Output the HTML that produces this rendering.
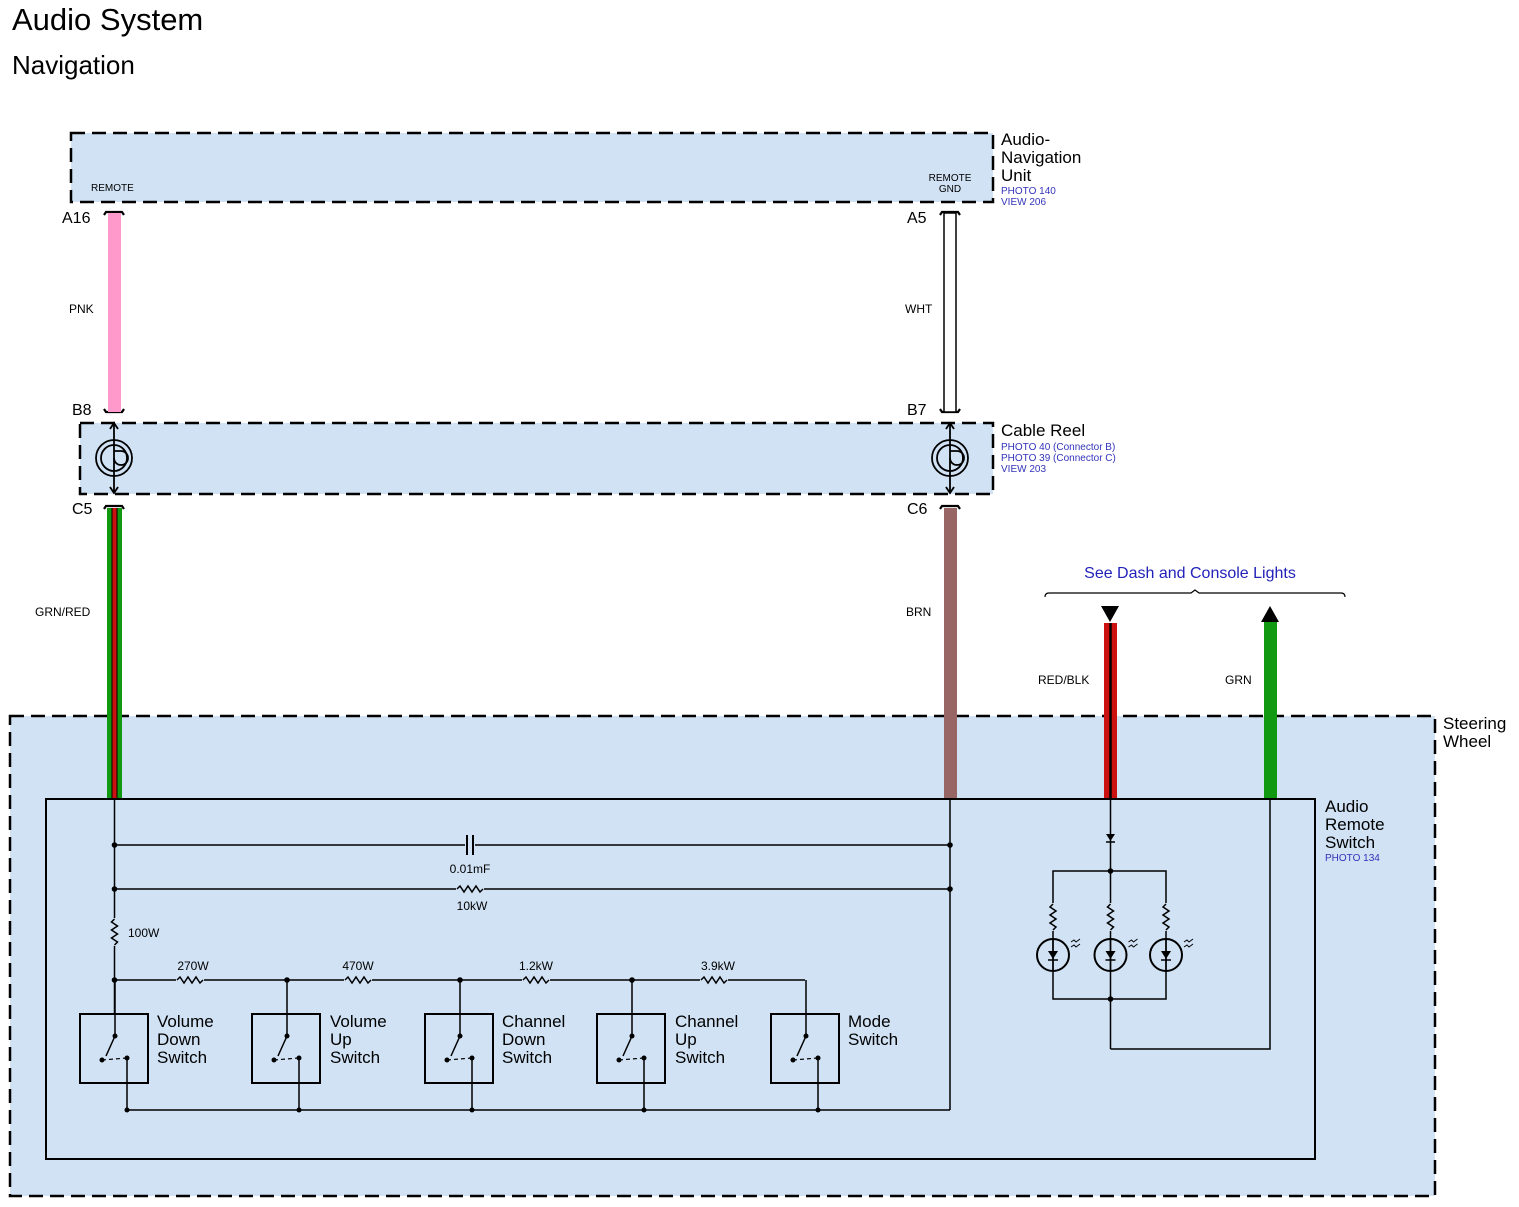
<!DOCTYPE html>
<html><head><meta charset="utf-8"><style>
html,body{margin:0;padding:0;background:#fff}
svg{display:block;font-family:"Liberation Sans",Arial,sans-serif}
</style></head><body>
<svg width="1519" height="1207" viewBox="0 0 1519 1207" xmlns="http://www.w3.org/2000/svg">
<defs>
<g id="rh"><rect x="-14" y="-5" width="28" height="10" fill="#d0e2f4"/><polyline points="-13,0 -10,-3 -6,3 -2,-3 2,3 6,-3 10,3 13,0" fill="none" stroke="#000" stroke-width="1.5"/></g>
<g id="rv"><rect x="-5" y="-14" width="10" height="28" fill="#d0e2f4"/><polyline points="0,-13 -3,-10 3,-6 -3,-2 3,2 -3,6 3,10 0,13" fill="none" stroke="#000" stroke-width="1.5"/></g>
<g id="sw">
<rect x="0" y="0" width="68" height="69" fill="none" stroke="#000" stroke-width="2"/>
<line x1="35" y1="-34" x2="35" y2="22" stroke="#000" stroke-width="1.5"/>
<circle cx="35" cy="22" r="2.5"/>
<line x1="35" y1="22" x2="26" y2="42" stroke="#000" stroke-width="1.5"/>
<circle cx="22" cy="46" r="2.5"/>
<line x1="22" y1="46" x2="47" y2="44" stroke="#000" stroke-width="1.2" stroke-dasharray="4,3"/>
<circle cx="47" cy="44" r="2.5"/>
<line x1="47" y1="44" x2="47" y2="96" stroke="#000" stroke-width="1.5"/>
<circle cx="47" cy="96" r="2.5"/>
</g>
<g id="led">
<circle cx="0" cy="0" r="16" fill="none" stroke="#000" stroke-width="2"/>
<polygon points="-5,-4 5,-4 0,4"/><line x1="-5" y1="5" x2="5" y2="5" stroke="#000" stroke-width="1.5"/>
<line x1="0" y1="-16" x2="0" y2="16" stroke="#000" stroke-width="1.5"/>
<path d="M18,-13 l3,-2 l2,2 l4,-3 M18,-8 l3,-2 l2,2 l4,-3" fill="none" stroke="#000" stroke-width="1"/>
</g>
<g id="reel" fill="none" stroke="#000" stroke-width="1.8">
<circle cx="0" cy="0" r="18"/><circle cx="0" cy="0" r="13"/><path d="M0,0 a7,7 0 1 0 7,-7 L0,-7"/>
<line x1="0" y1="-34" x2="0" y2="34"/><path d="M-4,-29 L0,-35 L4,-29 M-4,29 L0,35 L4,29"/>
</g>
</defs>
<text x="12" y="30" font-size="31">Audio System</text>
<text x="12" y="74" font-size="26">Navigation</text>

<rect x="71" y="133" width="922" height="69" fill="#d0e2f4" stroke="#000" stroke-width="2.5" stroke-dasharray="14,7"/>
<text x="91" y="191" font-size="10">REMOTE</text>
<text x="950" y="181" font-size="10" text-anchor="middle">REMOTE</text>
<text x="950" y="192" font-size="10" text-anchor="middle">GND</text>
<text x="1001" y="145" font-size="17">Audio-</text>
<text x="1001" y="163" font-size="17">Navigation</text>
<text x="1001" y="181" font-size="17">Unit</text>
<text x="1001" y="194" font-size="10" fill="#3333bb">PHOTO 140</text>
<text x="1001" y="205" font-size="10" fill="#3333bb">VIEW 206</text>

<g fill="none" stroke="#000" stroke-width="2.2">
<path d="M104,215 l2,-3 h16 l2,3"/><path d="M104,409 l2,3 h16 l2,-3"/><path d="M104,509 l2,-3 h16 l2,3"/>
<path d="M940,215 l2,-3 h16 l2,3"/><path d="M940,409 l2,3 h16 l2,-3"/><path d="M940,509 l2,-3 h16 l2,3"/>
</g>
<text x="62" y="223" font-size="16">A16</text>
<text x="907" y="223" font-size="16">A5</text>
<text x="72" y="415" font-size="16">B8</text>
<text x="907" y="415" font-size="16">B7</text>
<text x="72" y="514" font-size="16">C5</text>
<text x="907" y="514" font-size="16">C6</text>

<rect x="108" y="213" width="13" height="199" fill="#ff99cc"/>
<rect x="944" y="213" width="12" height="199" fill="#fff" stroke="#000" stroke-width="1.5"/>
<text x="69" y="313" font-size="12">PNK</text>
<text x="905" y="313" font-size="12">WHT</text>

<rect x="80" y="423" width="913" height="71" fill="#d0e2f4" stroke="#000" stroke-width="2.5" stroke-dasharray="14,7"/>
<use href="#reel" x="114" y="458"/>
<use href="#reel" x="950" y="458"/>
<text x="1001" y="436" font-size="17">Cable Reel</text>
<text x="1001" y="450" font-size="10" fill="#3333bb">PHOTO 40 (Connector B)</text>
<text x="1001" y="461" font-size="10" fill="#3333bb">PHOTO 39 (Connector C)</text>
<text x="1001" y="472" font-size="10" fill="#3333bb">VIEW 203</text>

<rect x="10" y="716" width="1425" height="480" fill="#d0e2f4" stroke="#000" stroke-width="2.5" stroke-dasharray="14,7"/>
<text x="1443" y="729" font-size="17">Steering</text>
<text x="1443" y="747" font-size="17">Wheel</text>

<rect x="107" y="508" width="15" height="292" fill="#119911"/>
<line x1="112" y1="508" x2="112" y2="800" stroke="#000" stroke-width="1"/>
<line x1="117" y1="508" x2="117" y2="800" stroke="#000" stroke-width="1"/>
<rect x="112.5" y="508" width="4" height="292" fill="#cc1111"/>
<rect x="944" y="508" width="13" height="292" fill="#996666"/>
<text x="35" y="616" font-size="12">GRN/RED</text>
<text x="906" y="616" font-size="12">BRN</text>

<text x="1190" y="578" font-size="16" fill="#2222bb" text-anchor="middle">See Dash and Console Lights</text>
<path d="M1045,597 q0,-4 4,-4 L1191,593 l4,-3 l4,3 L1341,593 q4,0 4,4" fill="none" stroke="#000" stroke-width="1.2"/>
<polygon points="1101,606 1119,606 1110,622"/>
<rect x="1104" y="623" width="13" height="177" fill="#cc1111"/>
<line x1="1110.5" y1="623" x2="1110.5" y2="800" stroke="#000" stroke-width="2.5"/>
<polygon points="1261,622 1279,622 1270,606"/>
<rect x="1264" y="622" width="13" height="178" fill="#119911"/>
<text x="1038" y="684" font-size="12">RED/BLK</text>
<text x="1225" y="684" font-size="12">GRN</text>

<rect x="46" y="799" width="1269" height="360" fill="#d0e2f4" stroke="#000" stroke-width="2"/>
<text x="1325" y="812" font-size="17">Audio</text>
<text x="1325" y="830" font-size="17">Remote</text>
<text x="1325" y="848" font-size="17">Switch</text>
<text x="1325" y="861" font-size="10" fill="#3333bb">PHOTO 134</text>

<g stroke="#000" stroke-width="1.5" fill="none">
<line x1="114.5" y1="800" x2="114.5" y2="1014"/>
<line x1="114.5" y1="845" x2="950" y2="845"/>
<line x1="114.5" y1="889" x2="950" y2="889"/>
<line x1="950" y1="800" x2="950" y2="1110"/>
<line x1="114.5" y1="980" x2="805" y2="980"/>
<line x1="127" y1="1110" x2="950" y2="1110"/>
</g>
<rect x="465" y="835" width="10" height="20" fill="#d0e2f4"/>
<line x1="467" y1="835" x2="467" y2="855" stroke="#000" stroke-width="2"/>
<line x1="473" y1="835" x2="473" y2="855" stroke="#000" stroke-width="2"/>
<circle cx="114.5" cy="845" r="2.8"/><circle cx="950" cy="845" r="2.8"/>
<circle cx="114.5" cy="889" r="2.8"/><circle cx="950" cy="889" r="2.8"/>
<circle cx="114.5" cy="980" r="2.8"/>
<text x="470" y="873" font-size="12" text-anchor="middle">0.01mF</text>
<use href="#rh" x="470" y="889"/>
<text x="472" y="910" font-size="12" text-anchor="middle">10kW</text>
<use href="#rv" x="114.5" y="932"/>
<text x="128" y="937" font-size="12">100W</text>
<use href="#rh" x="190" y="980"/><text x="193" y="970" font-size="12" text-anchor="middle">270W</text>
<use href="#rh" x="358" y="980"/><text x="358" y="970" font-size="12" text-anchor="middle">470W</text>
<use href="#rh" x="536" y="980"/><text x="536" y="970" font-size="12" text-anchor="middle">1.2kW</text>
<use href="#rh" x="714" y="980"/><text x="718" y="970" font-size="12" text-anchor="middle">3.9kW</text>
<circle cx="287" cy="980" r="2.8"/><circle cx="460" cy="980" r="2.8"/><circle cx="632" cy="980" r="2.8"/>

<use href="#sw" x="80" y="1014"/>
<use href="#sw" x="252" y="1014"/>
<use href="#sw" x="425" y="1014"/>
<use href="#sw" x="597" y="1014"/>
<use href="#sw" x="771" y="1014"/>
<g font-size="17">
<text x="157" y="1027">Volume</text><text x="157" y="1045">Down</text><text x="157" y="1063">Switch</text>
<text x="330" y="1027">Volume</text><text x="330" y="1045">Up</text><text x="330" y="1063">Switch</text>
<text x="502" y="1027">Channel</text><text x="502" y="1045">Down</text><text x="502" y="1063">Switch</text>
<text x="675" y="1027">Channel</text><text x="675" y="1045">Up</text><text x="675" y="1063">Switch</text>
<text x="848" y="1027">Mode</text><text x="848" y="1045">Switch</text>
</g>

<g stroke="#000" stroke-width="1.5" fill="none">
<line x1="1110.5" y1="800" x2="1110.5" y2="1049"/>
<polyline points="1110.5,1049 1270,1049 1270,800"/>
<rect x="1053" y="871" width="113" height="128"/>
</g>
<polygon points="1106,834 1115,834 1110.5,841"/>
<line x1="1106" y1="842" x2="1115" y2="842" stroke="#000" stroke-width="1.5"/>
<circle cx="1110.5" cy="871" r="2.8"/><circle cx="1110.5" cy="999" r="2.8"/>
<use href="#rv" x="1053" y="917"/><use href="#rv" x="1110.5" y="917"/><use href="#rv" x="1166" y="917"/>
<g fill="#000">
<use href="#led" x="1053" y="955"/><use href="#led" x="1110.5" y="955"/><use href="#led" x="1166" y="955"/>
</g>
</svg>
</body></html>
